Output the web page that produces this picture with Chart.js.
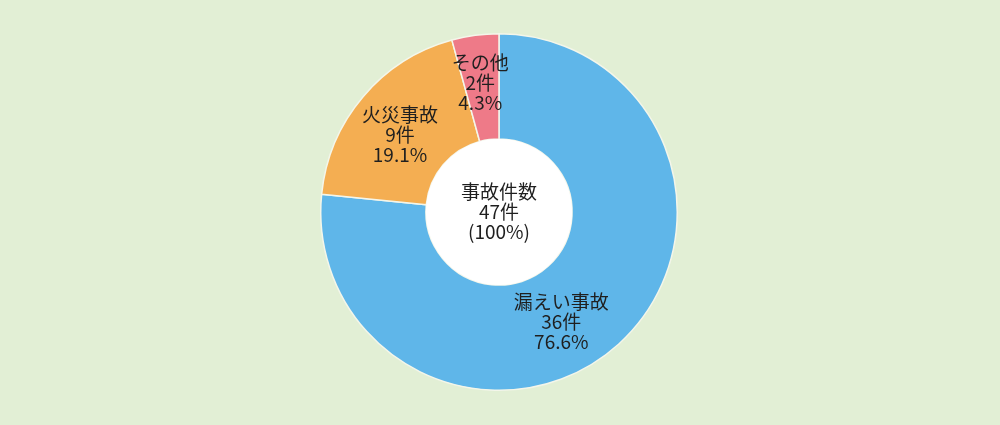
<!DOCTYPE html>
<html lang="ja">
<head>
<meta charset="utf-8">
<title>事故件数</title>
<script src="https://cdn.jsdelivr.net/npm/chart.js@4/dist/chart.umd.min.js"></script>
<style>
  html, body { margin: 0; padding: 0; background: #e2efd5; }
  #wrap { width: 1000px; height: 425px; position: relative; }
</style>
</head>
<body>
<div id="wrap"><canvas id="PieChart" width="1000" height="425"></canvas></div>
<script>
// data
const categories = ["漏えい事故", "火災事故", "その他"];
const counts = [36, 9, 2];
const percents = ["76.6", "19.1", "4.3"];
const totalLabel = ["事故件数", "47件", "(100%)"];

const colors = ["#5fb6e9", "#f4ae52", "#ee7a88"];
const bgColor = "#e2efd5";
const fontFamily = "'Noto Sans CJK JP', 'Noto Sans', sans-serif";
// label nudges relative to each arc's middle point
const labelShift = [[-22, 17], [-3, 4], [-2, -5]];

const backgroundPlugin = {
  id: "bg",
  beforeDraw(chart) {
    const { ctx, width, height } = chart;
    ctx.save();
    ctx.fillStyle = bgColor;
    ctx.fillRect(0, 0, width, height);
    ctx.restore();
  },
};

const labelPlugin = {
  id: "labels",
  afterDatasetsDraw(chart) {
    const { ctx } = chart;
    const arcs = chart.getDatasetMeta(0).data;
    ctx.save();
    ctx.font = "19px " + fontFamily;
    ctx.textAlign = "center";
    ctx.textBaseline = "middle";

    // white hole in the middle
    const a0 = arcs[0];
    ctx.beginPath();
    ctx.arc(a0.x, a0.y, a0.innerRadius, 0, Math.PI * 2);
    ctx.fillStyle = "#ffffff";
    ctx.fill();

    ctx.fillStyle = "#1f1f1f";
    totalLabel.forEach((line, i) => {
      ctx.fillText(line, a0.x, a0.y + (i - 1) * 20);
    });

    arcs.forEach((arc, i) => {
      const pos = arc.tooltipPosition();
      const x = pos.x + labelShift[i][0];
      const y = pos.y + labelShift[i][1];
      const lines = [categories[i], counts[i] + "件", percents[i] + "%"];
      lines.forEach((line, j) => {
        ctx.fillText(line, x, y + (j - 1) * 20);
      });
    });
    ctx.restore();
  },
};

const chartConfig = {
  type: "doughnut",
  data: {
    labels: categories,
    datasets: [
      {
        data: counts,
        backgroundColor: colors,
        borderColor: "#f4f6ea",
        borderWidth: 1.5,
      },
    ],
  },
  options: {
    responsive: false,
    animation: false,
    cutout: "41%",
    layout: {
      padding: { top: 33, bottom: 34, left: 0, right: 2 },
    },
    plugins: {
      legend: { display: false },
      tooltip: { enabled: false },
    },
  },
  plugins: [backgroundPlugin, labelPlugin],
};

new Chart(document.getElementById("PieChart"), chartConfig);
</script>
</body>
</html>
